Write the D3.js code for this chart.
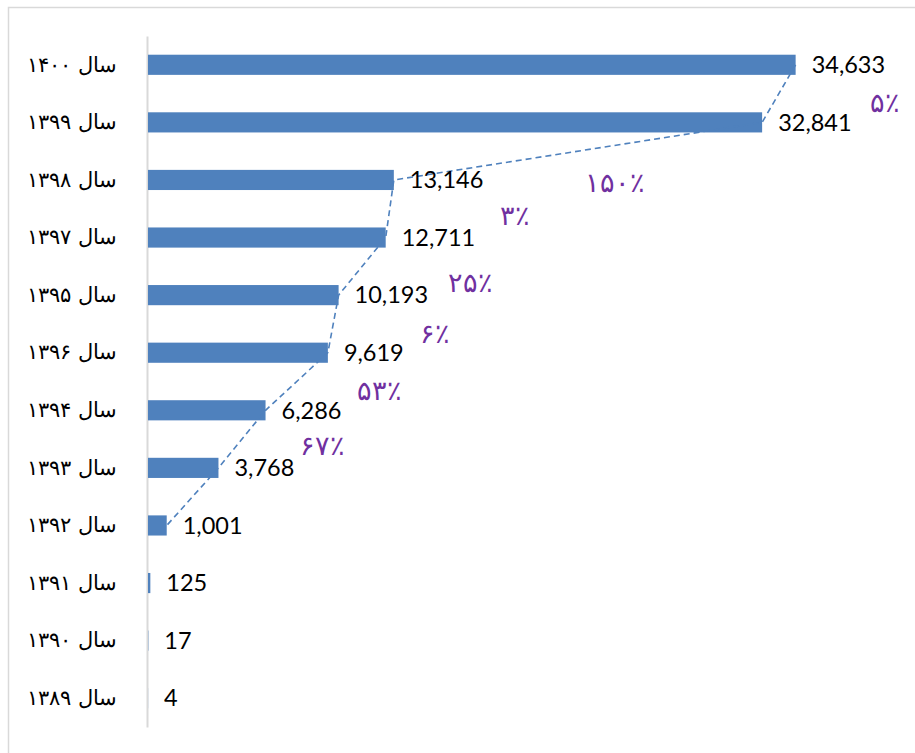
<!DOCTYPE html>
<html lang="fa">
<head>
<meta charset="UTF-8">
<title>chart</title>
<style>
  body { margin: 0; background: #fff; }
  svg { display: block; }
</style>
</head>
<body>
<svg width="915" height="753" id="svg"></svg>
<script src="https://d3js.org/d3.v7.min.js"></script>
<script>
// categories top to bottom, as in the picture
const years = ["سال ۱۴۰۰", "سال ۱۳۹۹", "سال ۱۳۹۸", "سال ۱۳۹۷", "سال ۱۳۹۵", "سال ۱۳۹۶",
               "سال ۱۳۹۴", "سال ۱۳۹۳", "سال ۱۳۹۲", "سال ۱۳۹۱", "سال ۱۳۹۰", "سال ۱۳۸۹"]
const values = [34633, 32841, 13146, 12711, 10193, 9619, 6286, 3768, 1001, 125, 17, 4]
// growth labels between consecutive rows
const growth = ["۵٪", "۱۵۰٪", "۳٪", "۲۵٪", "۶٪", "۵۳٪", "۶۷٪"]
// how many rows the dashed trend line runs through
const trendRows = 9

// placement of growth labels: [value-axis x, row offset]
const growthAt = [[38600, 0.66], [23370, 1.05], [18820, 0.61], [16040, 0.79],
                  [14545, 0.66], [11175, 0.65], [8130, 0.61]]

const svg = d3.select("svg#svg")
const blue = "#4f81bd"

// outer frame
svg.append("rect").attr("x", 8.5).attr("y", 7.5).attr("width", 930).attr("height", 780)
  .attr("fill", "none").attr("stroke", "#d9d9d9").attr("stroke-width", 1.5)

const xScale = d3.scaleLinear().domain([0, 40000]).range([148, 896])
const yScale = d3.scaleBand().domain(d3.range(years.length)).range([36, 727])
  .paddingInner(0.65).paddingOuter(0.325)
const cy = i => yScale(i) + yScale.bandwidth() / 2

// category axis
const yAxis = d3.axisLeft(yScale).tickSize(0).tickPadding(30).tickFormat(i => years[i])
const ga = svg.append("g").attr("transform", "translate(147,0)").call(yAxis)
ga.select(".domain").attr("stroke", "#d9d9d9").attr("stroke-width", 2)
ga.selectAll(".tick text")
  .attr("font-family", "'DejaVu Sans', sans-serif")
  .attr("font-size", 21).attr("font-weight", 300).attr("fill", "#000")

// bars
svg.append("g").selectAll("rect").data(values).join("rect")
  .attr("x", xScale(0))
  .attr("y", (d, i) => yScale(i))
  .attr("width", d => xScale(d) - xScale(0))
  .attr("height", yScale.bandwidth())
  .attr("fill", blue)

// dashed trend line through bar ends
const line = d3.line().x(d => xScale(d[0])).y(d => cy(d[1]))
svg.append("path")
  .datum(values.slice(0, trendRows).map((v, i) => [v, i]))
  .attr("d", line)
  .attr("fill", "none").attr("stroke", blue).attr("stroke-width", 1.6)
  .attr("stroke-dasharray", "6,4")

// value labels
svg.append("g").selectAll("text").data(values).join("text")
  .attr("x", d => xScale(d) + 16)
  .attr("y", (d, i) => cy(i))
  .attr("dy", "0.35em")
  .attr("font-family", "Lato, sans-serif")
  .attr("font-size", 23.5).attr("fill", "#000")
  .text(d => d3.format(",")(d))

// growth percentages
svg.append("g").selectAll("text").data(growth).join("text")
  .attr("x", (d, i) => xScale(growthAt[i][0]))
  .attr("y", (d, i) => cy(i) + growthAt[i][1] * yScale.step())
  .attr("dy", "0.35em")
  .attr("font-family", "'DejaVu Sans', sans-serif")
  .attr("font-size", 27).attr("font-weight", 300).attr("fill", "#7030a0")
  .text(d => d)
</script>
</body>
</html>
